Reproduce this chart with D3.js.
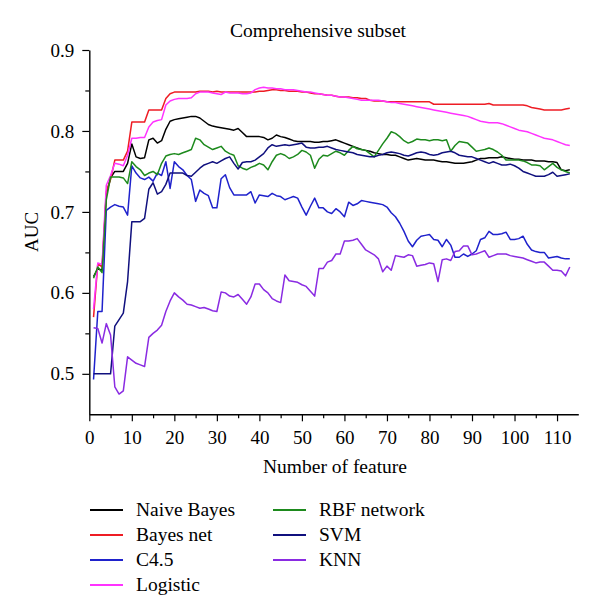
<!DOCTYPE html>
<html>
<head>
<meta charset="utf-8">
<script src="https://cdn.jsdelivr.net/npm/d3@7"></script>
<style>
  body { margin: 0; background: #fff; }
  svg text { font-family: "Liberation Serif", "Times New Roman", Times, "DejaVu Serif", serif !important; fill: #000; }
</style>
</head>
<body>
<svg id="chart" width="600" height="616"></svg>
<script>
// features 1..113
const features = d3.range(1, 114);

const naiveBayes = [0.620,0.630,0.628,0.722,0.742,0.750,0.750,0.750,0.760,0.784,
0.768,0.766,0.767,0.789,0.791,0.785,0.788,0.802,0.812,0.814,
0.815,0.816,0.817,0.818,0.818,0.816,0.812,0.808,0.806,0.805,
0.804,0.803,0.802,0.801,0.803,0.798,0.793,0.793,0.793,0.793,
0.792,0.789,0.791,0.795,0.793,0.792,0.790,0.788,0.787,0.787,
0.787,0.787,0.786,0.786,0.787,0.787,0.788,0.789,0.787,0.785,
0.783,0.781,0.779,0.777,0.776,0.775,0.773,0.772,0.771,0.771,
0.770,0.770,0.768,0.766,0.764,0.765,0.766,0.765,0.764,0.764,
0.764,0.763,0.762,0.762,0.761,0.760,0.760,0.760,0.761,0.762,
0.764,0.766,0.766,0.767,0.767,0.767,0.768,0.767,0.766,0.765,
0.765,0.764,0.764,0.764,0.763,0.763,0.763,0.762,0.762,0.761,
0.752,0.751,0.752];

const bayesNet = [0.570,0.636,0.632,0.725,0.740,0.764,0.764,0.764,0.775,0.811,
0.811,0.811,0.811,0.826,0.826,0.826,0.826,0.840,0.846,0.848,
0.848,0.848,0.848,0.848,0.848,0.849,0.849,0.849,0.848,0.849,
0.848,0.848,0.848,0.848,0.848,0.848,0.848,0.848,0.848,0.849,
0.849,0.850,0.851,0.851,0.850,0.850,0.849,0.849,0.849,0.848,
0.848,0.847,0.846,0.846,0.845,0.844,0.844,0.843,0.842,0.842,
0.842,0.841,0.841,0.840,0.840,0.838,0.837,0.837,0.837,0.836,
0.836,0.836,0.836,0.836,0.836,0.836,0.836,0.836,0.836,0.836,
0.833,0.833,0.833,0.833,0.833,0.833,0.833,0.833,0.833,0.833,
0.833,0.833,0.833,0.834,0.832,0.832,0.832,0.832,0.832,0.832,
0.832,0.832,0.831,0.829,0.828,0.827,0.826,0.826,0.826,0.826,
0.826,0.827,0.828];

const c45 = [0.493,0.577,0.577,0.702,0.706,0.709,0.707,0.706,0.696,0.757,
0.748,0.742,0.740,0.743,0.738,0.748,0.745,0.762,0.729,0.762,
0.756,0.752,0.745,0.740,0.713,0.727,0.723,0.720,0.705,0.705,
0.741,0.746,0.730,0.721,0.721,0.721,0.721,0.725,0.711,0.721,
0.720,0.719,0.723,0.720,0.719,0.715,0.717,0.719,0.717,0.706,
0.696,0.707,0.717,0.705,0.705,0.700,0.698,0.704,0.700,0.694,
0.712,0.708,0.710,0.714,0.713,0.712,0.711,0.710,0.709,0.706,
0.699,0.694,0.686,0.676,0.664,0.657,0.665,0.670,0.671,0.672,
0.666,0.665,0.657,0.666,0.659,0.644,0.644,0.648,0.645,0.648,
0.652,0.666,0.668,0.676,0.672,0.672,0.673,0.675,0.666,0.666,
0.667,0.670,0.660,0.653,0.651,0.650,0.650,0.643,0.644,0.645,
0.643,0.642,0.642];

const logistic = [0.580,0.637,0.635,0.733,0.745,0.760,0.759,0.757,0.770,0.791,
0.791,0.792,0.792,0.805,0.811,0.813,0.814,0.832,0.837,0.839,
0.840,0.840,0.840,0.841,0.846,0.848,0.848,0.848,0.847,0.846,
0.845,0.848,0.847,0.847,0.847,0.846,0.846,0.847,0.851,0.853,
0.854,0.853,0.853,0.852,0.852,0.851,0.851,0.851,0.850,0.849,
0.848,0.848,0.847,0.846,0.845,0.844,0.844,0.843,0.842,0.842,
0.841,0.840,0.839,0.838,0.838,0.838,0.838,0.838,0.837,0.836,
0.835,0.835,0.834,0.833,0.832,0.831,0.830,0.829,0.828,0.827,
0.826,0.825,0.824,0.823,0.822,0.821,0.820,0.819,0.818,0.816,
0.814,0.812,0.811,0.810,0.810,0.810,0.809,0.807,0.805,0.803,
0.801,0.800,0.799,0.797,0.795,0.793,0.791,0.790,0.789,0.787,
0.785,0.783,0.782];

const rbfNetwork = [0.618,0.632,0.625,0.715,0.743,0.743,0.743,0.742,0.735,0.762,
0.756,0.752,0.745,0.748,0.750,0.746,0.760,0.769,0.771,0.772,
0.771,0.773,0.775,0.777,0.791,0.789,0.783,0.780,0.777,0.779,
0.781,0.775,0.772,0.770,0.757,0.754,0.752,0.755,0.757,0.760,
0.758,0.752,0.762,0.770,0.772,0.770,0.766,0.768,0.771,0.776,
0.774,0.770,0.754,0.765,0.770,0.769,0.772,0.775,0.773,0.770,
0.776,0.781,0.778,0.777,0.776,0.772,0.768,0.776,0.784,0.791,
0.799,0.797,0.793,0.788,0.785,0.787,0.790,0.789,0.789,0.788,
0.789,0.789,0.788,0.789,0.775,0.782,0.787,0.786,0.785,0.780,
0.775,0.776,0.777,0.779,0.777,0.774,0.770,0.764,0.764,0.764,
0.764,0.763,0.761,0.758,0.758,0.757,0.752,0.756,0.760,0.755,
0.752,0.750,0.748];

const svm = [0.500,0.500,0.500,0.500,0.500,0.559,0.567,0.575,0.614,0.688,
0.688,0.688,0.692,0.728,0.736,0.722,0.725,0.734,0.748,0.748,
0.748,0.748,0.745,0.744,0.749,0.754,0.758,0.760,0.762,0.760,
0.763,0.766,0.768,0.760,0.753,0.761,0.762,0.762,0.764,0.768,
0.772,0.779,0.783,0.781,0.782,0.783,0.782,0.783,0.784,0.785,
0.780,0.779,0.779,0.780,0.780,0.781,0.779,0.777,0.776,0.775,
0.774,0.773,0.771,0.770,0.769,0.768,0.768,0.770,0.771,0.773,
0.774,0.773,0.772,0.770,0.769,0.771,0.773,0.774,0.773,0.771,
0.770,0.771,0.773,0.774,0.775,0.773,0.770,0.769,0.768,0.768,
0.766,0.764,0.762,0.760,0.762,0.760,0.758,0.758,0.759,0.757,
0.754,0.750,0.748,0.746,0.744,0.744,0.744,0.746,0.749,0.744,
0.745,0.746,0.747];

const knn = [0.557,0.556,0.538,0.562,0.548,0.484,0.475,0.479,0.521,0.517,
0.513,0.511,0.509,0.545,0.550,0.554,0.560,0.577,0.590,0.600,
0.595,0.591,0.586,0.585,0.583,0.581,0.582,0.580,0.578,0.577,
0.601,0.600,0.596,0.595,0.598,0.592,0.586,0.595,0.611,0.611,
0.604,0.600,0.593,0.590,0.588,0.622,0.615,0.614,0.613,0.610,
0.608,0.602,0.596,0.630,0.630,0.638,0.640,0.648,0.648,0.664,
0.664,0.665,0.667,0.660,0.653,0.650,0.647,0.642,0.626,0.633,
0.628,0.646,0.645,0.644,0.647,0.646,0.633,0.634,0.635,0.637,
0.636,0.614,0.641,0.642,0.640,0.651,0.652,0.658,0.658,0.647,
0.648,0.650,0.652,0.644,0.646,0.648,0.648,0.648,0.646,0.645,
0.644,0.643,0.641,0.639,0.637,0.638,0.638,0.633,0.628,0.628,
0.627,0.621,0.632];

const seriesNames = ["Naive Bayes", "Bayes net", "C4.5", "Logistic", "RBF network", "SVM", "KNN"];
const seriesValues = [naiveBayes, bayesNet, c45, logistic, rbfNetwork, svm, knn];
const seriesColors = ["#000000", "#ee1c24", "#1f22cc", "#ff33ff", "#1d8a1d", "#10107e", "#8a2be2"];

const xTicks = [0, 10, 20, 30, 40, 50, 60, 70, 80, 90, 100, 110];
const yTicks = [0.5, 0.6, 0.7, 0.8, 0.9];

const FONT = "'Liberation Serif', 'Times New Roman', Times, 'DejaVu Serif', serif";

const svg = d3.select("#chart");

const x = d3.scaleLinear().domain([0, 115]).range([89.3, 578.3]);
const y = d3.scaleLinear().domain([0.45, 0.9]).range([414.3, 50]);

// minor ticks first
svg.append("g")
    .attr("transform", "translate(0,414.3)")
    .call(d3.axisBottom(x).tickValues(d3.range(5, 115, 10)).tickSize(4).tickFormat(""))
    .call(g => g.select(".domain").remove());
svg.append("g")
    .attr("transform", "translate(89.3,0)")
    .call(d3.axisLeft(y).tickValues([0.55, 0.65, 0.75, 0.85]).tickSize(4).tickFormat(""))
    .call(g => g.select(".domain").remove());

const xAxis = svg.append("g")
    .attr("transform", "translate(0,414.3)")
    .call(d3.axisBottom(x).tickValues(xTicks).tickSize(7).tickSizeOuter(0).tickPadding(9));
const yAxis = svg.append("g")
    .attr("transform", "translate(89.3,0)")
    .call(d3.axisLeft(y).tickValues(yTicks).tickSize(7).tickSizeOuter(0).tickPadding(8)
        .tickFormat(d3.format(".1f")));

svg.selectAll("g").attr("font-family", FONT);
svg.selectAll(".tick line").attr("stroke", "#000").attr("stroke-width", 1.2);
svg.selectAll(".domain").attr("stroke", "#000").attr("stroke-width", 1.4);
svg.selectAll(".tick text")
    .style("font-family", FONT)
    .style("font-size", "19px")
    .attr("fill", "#000");

// lines
const line = d3.line()
    .x((d, i) => x(features[i]))
    .y(d => y(d));

svg.append("g")
    .selectAll("path")
    .data(seriesValues)
    .enter().append("path")
    .attr("fill", "none")
    .attr("stroke", (d, i) => seriesColors[i])
    .attr("stroke-width", 1.5)
    .attr("stroke-linejoin", "round")
    .attr("d", line);

// titles
svg.append("text")
    .attr("x", 318).attr("y", 37)
    .attr("text-anchor", "middle")
    .style("font-family", FONT)
    .style("font-size", "19.5px")
    .text("Comprehensive subset");

svg.append("text")
    .attr("x", 335).attr("y", 473)
    .attr("text-anchor", "middle")
    .style("font-family", FONT)
    .style("font-size", "19.5px")
    .text("Number of feature");

svg.append("text")
    .attr("transform", "translate(38,232) rotate(-90)")
    .attr("text-anchor", "middle")
    .style("font-family", FONT)
    .style("font-size", "19px")
    .text("AUC");

// legend
const legend = svg.append("g");
const items = legend.selectAll("g")
    .data(seriesNames)
    .enter().append("g")
    .attr("transform", (d, i) => {
        const col = i < 4 ? 0 : 1;
        const row = i < 4 ? i : i - 4;
        return `translate(${col === 0 ? 90 : 273},${510 + row * 25})`;
    });
items.append("line")
    .attr("x1", 0).attr("x2", 33)
    .attr("stroke", (d, i) => seriesColors[i])
    .attr("stroke-width", 1.8);
items.append("text")
    .attr("x", 46).attr("y", 6)
    .style("font-family", FONT)
    .style("font-size", "19.5px")
    .text(d => d);
</script>
</body>
</html>
